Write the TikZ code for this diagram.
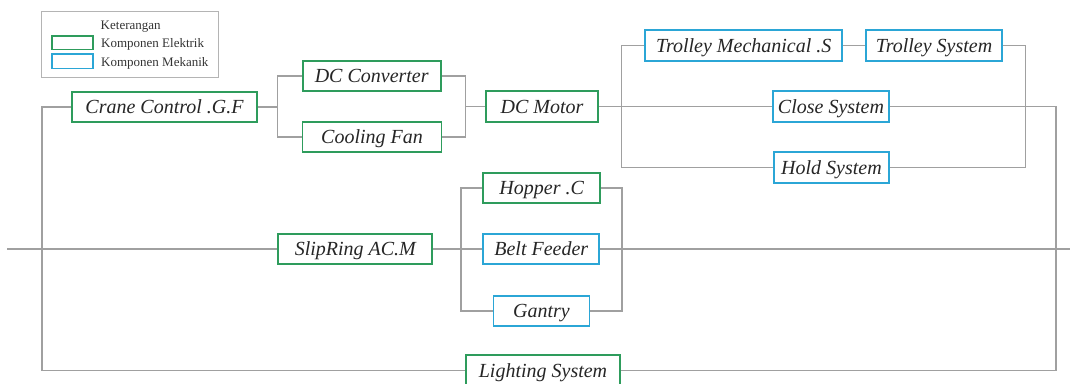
\documentclass[tikz,border=0pt]{standalone}
\usepackage{fontspec}
\setmainfont{Liberation Serif}
\usetikzlibrary{backgrounds}
\definecolor{elgreen}{HTML}{2E9C5C}
\definecolor{mekblue}{HTML}{2BA6D6}
\definecolor{wiregray}{HTML}{A0A0A0}
\definecolor{leggray}{HTML}{B4B4B4}
\tikzset{
  blk/.style={rectangle, line width=1.8pt, minimum height=30.5pt, inner sep=0pt,
    text height=13.2pt, text depth=0pt,
    font=\fontsize{20}{24}\selectfont\itshape, text=black!85, fill=white, align=center},
  elbox/.style={blk, draw=elgreen},
  mekbox/.style={blk, draw=mekblue},
  wire/.style={line width=1.1pt, wiregray},
  legtext/.style={font=\fontsize{13}{15}\selectfont, text=black!80, inner sep=0pt},
}

\begin{document}
\begin{tikzpicture}[x=1pt, y=-1pt]
  \useasboundingbox (0,0) rectangle (1070,383);

  % legend
  \draw[leggray, line width=0.8pt] (41.7,11.7) rectangle (218.3,77.3);
  \draw[elgreen, line width=1.6pt] (51.7,35.7) rectangle (92.7,49.3);
  \draw[mekblue, line width=1.6pt] (51.7,54) rectangle (92.7,68.3);
  \node[legtext] (ket) at (130.7,26.5) {Keterangan};
  \node[legtext, anchor=west] (lel) at (101,44) {Komponen Elektrik};
  \node[legtext, anchor=west] (lmk) at (101,63) {Komponen Mekanik};

  % elektrik
  \node[elbox, minimum width=185pt] (crane) at (164.5,107) {Crane Control .G.F};
  \node[elbox, minimum width=138pt] (conv) at (371.7,76) {DC Converter};
  \node[elbox, minimum width=139pt] (fan) at (372,137) {Cooling Fan};
  \node[elbox, minimum width=112pt] (motor) at (542,106.5) {DC Motor};
  \node[elbox, minimum width=154pt] (slip) at (355.3,249) {SlipRing AC.M};
  \node[elbox, minimum width=117pt] (hopper) at (541.7,188) {Hopper .C};
  \node[elbox, minimum width=154pt] (light) at (543,370.5) {Lighting System};

  % mekanik
  \node[mekbox, minimum width=197pt] (tmech) at (743.7,45.5) {Trolley Mechanical .S};
  \node[mekbox, minimum width=136pt] (tsys) at (934,45.5) {Trolley System};
  \node[mekbox, minimum width=116pt] (close) at (831,106.5) {Close System};
  \node[mekbox, minimum width=115pt] (hold) at (831.5,167.5) {Hold System};
  \node[mekbox, minimum width=116pt] (belt) at (541.3,249) {Belt Feeder};
  \node[mekbox, minimum width=96pt] (gantry) at (541.5,311) {Gantry};

  % junction points
  \coordinate (in)  at (7,249);
  \coordinate (out) at (1070,249);
  \coordinate (jl)  at (42,249);
  \coordinate (ja)  at (277.7,107);
  \coordinate (jb)  at (465.7,106.5);
  \coordinate (jc)  at (621.7,106.5);
  \coordinate (jd)  at (1025.7,106.5);
  \coordinate (jr)  at (1056,249);
  \coordinate (je)  at (461,249);
  \coordinate (jf)  at (622,249);

  % wiring
  \begin{scope}[on background layer]
    \draw[wire] (in) -- (slip.west);
    \draw[wire] (slip.east) -- (belt.west);
    \draw[wire] (belt.east) -- (out);
    \draw[wire] (crane.west) -| (jl) |- (light.west);
    \draw[wire] (crane.east) -- (ja);
    \draw[wire] (conv.west) -| (ja) |- (fan.west);
    \draw[wire] (conv.east) -| (jb) |- (fan.east);
    \draw[wire] (jb) -- (motor.west);
    \draw[wire] (motor.east) -- (close.west);
    \draw[wire] (tmech.west) -| (jc) |- (hold.west);
    \draw[wire] (tmech.east) -- (tsys.west);
    \draw[wire] (tsys.east) -| (jd) |- (hold.east);
    \draw[wire] (close.east) -| (jr) |- (light.east);
    \draw[wire] (hopper.west) -| (je) |- (gantry.west);
    \draw[wire] (hopper.east) -| (jf) |- (gantry.east);
  \end{scope}
\end{tikzpicture}
\end{document}
